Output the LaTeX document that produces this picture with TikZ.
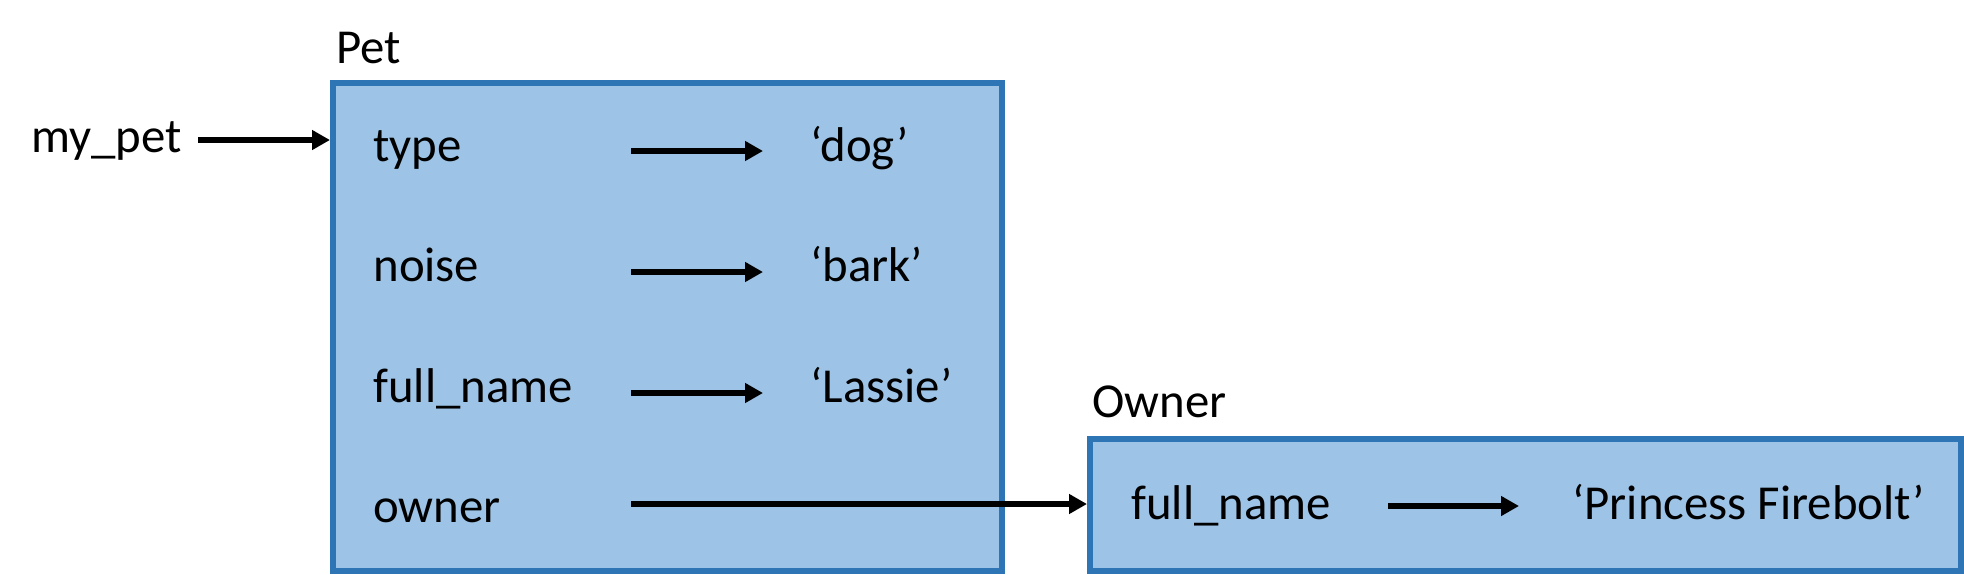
\documentclass[tikz,border=0pt]{standalone}
\usepackage{fontspec}
\setmainfont{Carlito}
\usetikzlibrary{positioning,arrows.meta}
\definecolor{boxfill}{HTML}{9DC3E6}
\definecolor{boxline}{HTML}{2E75B6}
\tikzset{
  objbox/.style={draw=boxline, fill=boxfill, line width=3pt, inner sep=0pt},
  lbl/.style={anchor=base west, inner sep=0pt, font=\fontsize{24.4}{29}\selectfont},
  ptr/.style={line width=3pt, -{Triangle[length=9pt,width=9.5pt]}}
}
\begin{document}
\begin{tikzpicture}[x=0.5pt, y=-0.5pt]
  \useasboundingbox (0,0) rectangle (1964,574);
  % Objects
  \node[objbox, minimum width=334.5pt, minimum height=244pt] (pet) at (667.5,327) {};
  \node[objbox, minimum width=435.5pt, minimum height=66pt] (owner) at (1525.5,505) {};
  \node[lbl] (petname) at (336,63) {Pet};
  \node[lbl] (ownername) at (1092,417) {Owner};
  % Variable
  \node[lbl] (mypet) at (31,152) {my\_pet};
  \draw[ptr] ([xshift=8pt,yshift=6pt]mypet.base east) -- ([yshift=6pt]mypet.base -| pet.west);
  % Pet attributes
  \coordinate (tail) at (631,0);
  \node[lbl] (type) at (373,161) {type};
  \node[lbl] (noise) at (373,281) {noise};
  \node[lbl] (fullname) at (373,402) {full\_name};
  \node[lbl] (ownerattr) at (373,522) {owner};
  \node[lbl] (dog) at (810,161) {`dog'};
  \node[lbl] (bark) at (810,281) {`bark'};
  \node[lbl] (lassie) at (810,402) {`Lassie'};
  \draw[ptr] ([yshift=5pt]type.base -| tail) -- ([xshift=-23.5pt,yshift=5pt]dog.base west);
  \draw[ptr] ([yshift=4.5pt]noise.base -| tail) -- ([xshift=-23.5pt,yshift=4.5pt]bark.base west);
  \draw[ptr] ([yshift=4.5pt]fullname.base -| tail) -- ([xshift=-23.5pt,yshift=4.5pt]lassie.base west);
  \draw[ptr] ([yshift=9pt]ownerattr.base -| tail) -- ([yshift=9pt]ownerattr.base -| owner.west);
  % Owner attributes
  \node[lbl] (ownerfull) at (1131,519) {full\_name};
  \node[lbl] (princess) at (1572,519) {`Princess Firebolt'};
  \draw[ptr] ([xshift=-92pt,yshift=6.5pt]princess.base west) -- ([xshift=-26.5pt,yshift=6.5pt]princess.base west);
\end{tikzpicture}
\end{document}
